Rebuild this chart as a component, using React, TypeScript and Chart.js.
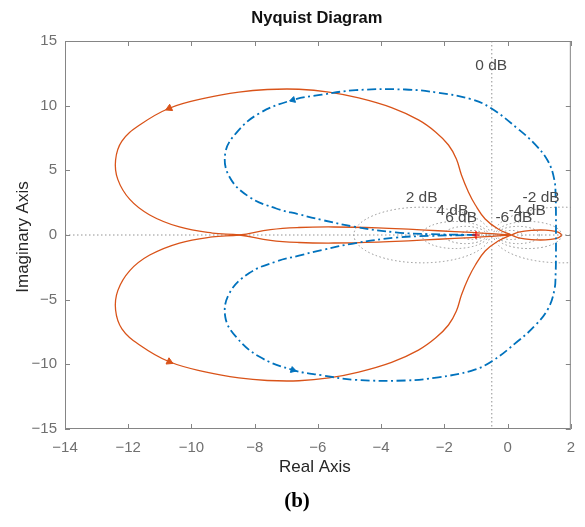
import React, { useEffect, useRef } from 'react';
import { Chart, registerables } from 'chart.js';

Chart.register(...registerables);

const xTicks = [-14, -12, -10, -8, -6, -4, -2, 0, 2];
const yTicks = [-15, -10, -5, 0, 5, 10, 15];

// Orange (solid) Nyquist branch, upper big loop (incl. lens tail below the axis)
const orangeUpper: [number, number][] = [
  [0.11, 0], [-0.3, 0.46], [-0.71, 1.24], [-1.02, 2.32], [-1.24, 3.33], [-1.46, 4.64],
  [-1.62, 5.88], [-1.87, 6.96], [-2.28, 7.97], [-2.82, 8.9], [-3.67, 9.85], [-4.71, 10.6],
  [-5.65, 11.05], [-6.6, 11.27], [-7.6, 11.25], [-8.5, 11.05], [-9.53, 10.6], [-10.7, 9.8],
  [-11.64, 8.5], [-12.2, 7.25], [-12.4, 5.8], [-12.33, 4.3], [-11.95, 2.75], [-11.32, 1.55],
  [-10.38, 0.62], [-9.34, 0.15], [-8.49, 0], [-7.5, -0.42], [-6.6, -0.58], [-5.5, -0.62],
  [-4.1, -0.55], [-3.0, -0.43], [-2.2, -0.33], [-1.15, -0.2], [-0.5, -0.1], [0.11, 0],
];
// Orange lower big loop
const orangeLower: [number, number][] = [
  [0.11, 0], [-0.3, -0.46], [-0.71, -1.24], [-1.02, -2.32], [-1.24, -3.33], [-1.46, -4.64],
  [-1.62, -5.88], [-1.87, -6.96], [-2.28, -7.97], [-2.82, -8.9], [-3.67, -9.85], [-4.71, -10.6],
  [-5.65, -11.05], [-6.6, -11.27], [-7.6, -11.25], [-8.5, -11.05], [-9.53, -10.6], [-10.7, -9.8],
  [-11.64, -8.5], [-12.2, -7.25], [-12.4, -5.8], [-12.33, -4.3], [-11.95, -2.75], [-11.32, -1.55],
  [-10.38, -0.62], [-9.34, -0.15], [-8.49, 0], [-7.5, 0.42], [-6.6, 0.58], [-5.5, 0.62],
  [-4.1, 0.55], [-3.0, 0.43], [-2.2, 0.33], [-1.15, 0.2], [-0.5, 0.1], [0.11, 0],
];
// Orange small loop on the right
const orangeSmallLoop: [number, number][] = [
  [0.11, 0], [0.35, 0.22], [0.75, 0.36], [1.2, 0.38], [1.52, 0.28], [1.68, 0.1],
  [1.68, -0.1], [1.52, -0.28], [1.2, -0.38], [0.75, -0.36], [0.35, -0.22], [0.11, 0],
];
// Blue (dash-dot) closed contour
const bluePath: [number, number][] = [
  [-1, 0], [-2.5, 0.07], [-3.54, 0.2], [-4.8, 0.62], [-5.87, 1.16], [-6.6, 1.6], [-7.32, 2.05],
  [-8.17, 2.94], [-8.8, 4.5], [-8.93, 6.34], [-8.58, 7.9], [-7.86, 9.4], [-6.79, 10.44],
  [-5.87, 10.85], [-4.8, 11.2], [-3.23, 11.25], [-2.19, 11.0], [-1.15, 10.5], [-0.52, 9.8],
  [0.33, 8.2], [0.87, 7.0], [1.28, 5.7], [1.48, 4.25], [1.52, 2.9], [1.53, 1.5], [1.53, 0],
  [1.53, -1.5], [1.52, -2.9], [1.48, -4.25], [1.28, -5.7], [0.87, -7.0], [0.33, -8.2],
  [-0.52, -9.8], [-1.15, -10.5], [-2.19, -11.0], [-3.23, -11.25], [-4.8, -11.2], [-5.87, -10.85],
  [-6.79, -10.44], [-7.86, -9.4], [-8.58, -7.9], [-8.93, -6.34], [-8.8, -4.5], [-8.17, -2.94],
  [-7.32, -2.05], [-6.6, -1.6], [-5.87, -1.16], [-4.8, -0.62], [-3.54, -0.2], [-2.5, -0.07], [-1, 0],
];

// Direction arrows: [x, y, rotation in degrees]
const orangeArrows: [number, number, number][] = [[-10.7, 9.8, 245], [-10.7, -9.8, 115]];
const blueArrows: [number, number, number][] = [[-6.79, 10.44, 253], [-6.79, -10.44, 107]];
const criticalPoint: [number, number][] = [[-1, 0]];

// M-circle grid levels (dB) and their labels [text, x, y]
const gridDb = [-20, -10, -6, -4, -2, 2, 4, 6, 10, 20];
const dbLabels: [string, number, number][] = [
  ['0 dB', -0.52, 13.1], ['2 dB', -2.72, 2.9], ['4 dB', -1.75, 1.88], ['6 dB', -1.47, 1.36],
  ['-2 dB', 1.06, 2.9], ['-4 dB', 0.62, 1.88], ['-6 dB', 0.2, 1.36],
];

const ORANGE = '#D95319';
const BLUE = '#0072BD';
const SANS = '"Liberation Sans", Arial, Helvetica, sans-serif';

const toPts = (arr: [number, number][]) => arr.map(([x, y]) => ({ x, y }));
const fmt = (v: number) => (v < 0 ? '\u2212' + Math.abs(v) : String(v));

const decor = {
  id: 'decor',
  beforeDatasetsDraw(chart: any) {
    const { ctx, chartArea: a, scales } = chart;
    const xs = scales.x, ys = scales.y;
    ctx.save();
    ctx.beginPath();
    ctx.rect(a.left, a.top, a.right - a.left, a.bottom - a.top);
    ctx.clip();
    ctx.strokeStyle = '#929292';
    ctx.lineWidth = 1;
    ctx.setLineDash([1.5, 2.5]);
    const y0 = ys.getPixelForValue(0);
    ctx.beginPath();
    ctx.moveTo(a.left, y0);
    ctx.lineTo(a.right, y0);
    ctx.stroke();
    const xh = xs.getPixelForValue(-0.5);
    ctx.beginPath();
    ctx.moveTo(xh, a.top);
    ctx.lineTo(xh, a.bottom);
    ctx.stroke();
    for (const db of gridDb) {
      const m = Math.pow(10, db / 20);
      const c = -(m * m) / (m * m - 1);
      const r = Math.abs(m / (m * m - 1));
      const cx = xs.getPixelForValue(c);
      const rx = Math.abs(xs.getPixelForValue(c + r) - cx);
      const ry = Math.abs(ys.getPixelForValue(r) - y0);
      ctx.beginPath();
      ctx.ellipse(cx, y0, rx, ry, 0, 0, Math.PI * 2);
      ctx.stroke();
    }
    ctx.restore();
  },
  afterDatasetsDraw(chart: any) {
    const { ctx, scales } = chart;
    ctx.save();
    ctx.font = `15.5px ${SANS}`;
    ctx.fillStyle = '#4a4a4a';
    ctx.textAlign = 'center';
    ctx.textBaseline = 'middle';
    for (const [t, x, y] of dbLabels) {
      ctx.fillText(t, scales.x.getPixelForValue(x), scales.y.getPixelForValue(y));
    }
    ctx.restore();
  },
  afterDraw(chart: any) {
    const { ctx, chartArea: a, scales } = chart;
    ctx.save();
    ctx.strokeStyle = '#858585';
    ctx.lineWidth = 1;
    ctx.setLineDash([]);
    ctx.strokeRect(a.left + 0.5, a.top + 0.5, a.right - a.left - 1, a.bottom - a.top - 1);
    const tl = 5;
    ctx.beginPath();
    for (const v of xTicks) {
      const px = Math.round(scales.x.getPixelForValue(v)) + 0.5;
      ctx.moveTo(px, a.bottom);
      ctx.lineTo(px, a.bottom - tl);
      ctx.moveTo(px, a.top);
      ctx.lineTo(px, a.top + tl);
    }
    for (const v of yTicks) {
      const py = Math.round(scales.y.getPixelForValue(v)) + 0.5;
      ctx.moveTo(a.left, py);
      ctx.lineTo(a.left + tl, py);
      ctx.moveTo(a.right, py);
      ctx.lineTo(a.right - tl, py);
    }
    ctx.stroke();

    const cx = (a.left + a.right) / 2;
    ctx.fillStyle = '#111111';
    ctx.textAlign = 'center';
    ctx.textBaseline = 'middle';
    ctx.font = `bold 16.5px ${SANS}`;
    ctx.fillText('Nyquist Diagram', cx - 1, 18);

    ctx.fillStyle = '#262626';
    ctx.font = `17px ${SANS}`;
    ctx.fillText('Real Axis', cx - 3, 467);

    ctx.save();
    ctx.translate(23, (a.top + a.bottom) / 2 + 2);
    ctx.rotate(-Math.PI / 2);
    ctx.fillText('Imaginary Axis', 0, 0);
    ctx.restore();

    ctx.fillStyle = '#000000';
    ctx.font = `bold 21px "Liberation Serif", "DejaVu Serif", serif`;
    ctx.fillText('(b)', 297, 502);
    ctx.restore();
  },
};

export default function App() {
  const ref = useRef<HTMLCanvasElement | null>(null);
  useEffect(() => {
    if (!ref.current) return;
    const tickFont = { family: SANS, size: 15 };
    const chart = new Chart(ref.current, {
      type: 'scatter',
      data: {
        datasets: [
          {
            data: toPts(criticalPoint),
            pointStyle: 'cross',
            pointRadius: 4,
            borderColor: '#ff0000',
            borderWidth: 1.2,
            showLine: false,
          },
          {
            data: orangeArrows.map(([x, y]) => ({ x, y })),
            pointStyle: 'triangle',
            pointRadius: 4,
            pointRotation: orangeArrows.map((d) => d[2]),
            backgroundColor: ORANGE,
            borderColor: ORANGE,
            borderWidth: 1,
            showLine: false,
          },
          {
            data: blueArrows.map(([x, y]) => ({ x, y })),
            pointStyle: 'triangle',
            pointRadius: 3.5,
            pointRotation: blueArrows.map((d) => d[2]),
            backgroundColor: BLUE,
            borderColor: BLUE,
            borderWidth: 1,
            showLine: false,
          },
          {
            data: toPts(bluePath),
            showLine: true,
            borderColor: BLUE,
            borderWidth: 1.8,
            borderDash: [9, 3.5, 2, 3.5],
            pointRadius: 0,
            tension: 0.4,
            fill: false,
          },
          {
            data: toPts(orangeSmallLoop),
            showLine: true,
            borderColor: ORANGE,
            borderWidth: 1.3,
            pointRadius: 0,
            tension: 0.4,
            fill: false,
          },
          {
            data: toPts(orangeLower),
            showLine: true,
            borderColor: ORANGE,
            borderWidth: 1.3,
            pointRadius: 0,
            tension: 0.4,
            fill: false,
          },
          {
            data: toPts(orangeUpper),
            showLine: true,
            borderColor: ORANGE,
            borderWidth: 1.3,
            pointRadius: 0,
            tension: 0.4,
            fill: false,
          },
        ],
      },
      options: {
        responsive: false,
        animation: false,
        devicePixelRatio: 1,
        events: [],
        layout: { padding: { left: 0, right: 12, top: 41, bottom: 48 } },
        plugins: { legend: { display: false }, tooltip: { enabled: false }, title: { display: false } },
        scales: {
          x: {
            type: 'linear',
            min: -14,
            max: 2,
            afterBuildTicks: (s: any) => {
              s.ticks = xTicks.map((v) => ({ value: v }));
            },
            afterFit: (s: any) => {
              s.height = 50;
            },
            grid: { display: false, drawTicks: false },
            border: { display: false },
            ticks: {
              font: tickFont,
              color: '#707070',
              padding: 10,
              maxRotation: 0,
              autoSkip: false,
              callback: (v: any) => fmt(Number(v)),
            },
          },
          y: {
            type: 'linear',
            min: -15,
            max: 15,
            afterBuildTicks: (s: any) => {
              s.ticks = yTicks.map((v) => ({ value: v }));
            },
            afterFit: (s: any) => {
              s.width = 65;
            },
            grid: { display: false, drawTicks: false },
            border: { display: false },
            ticks: {
              font: tickFont,
              color: '#707070',
              padding: 8,
              autoSkip: false,
              callback: (v: any) => fmt(Number(v)),
            },
          },
        },
      },
      plugins: [decor],
    } as any);
    return () => chart.destroy();
  }, []);
  return (
    <div style={{ position: 'absolute', left: 0, top: 0, width: 585, height: 527, background: '#fff' }}>
      <canvas ref={ref} width={585} height={527} style={{ display: 'block' }} />
    </div>
  );
}
